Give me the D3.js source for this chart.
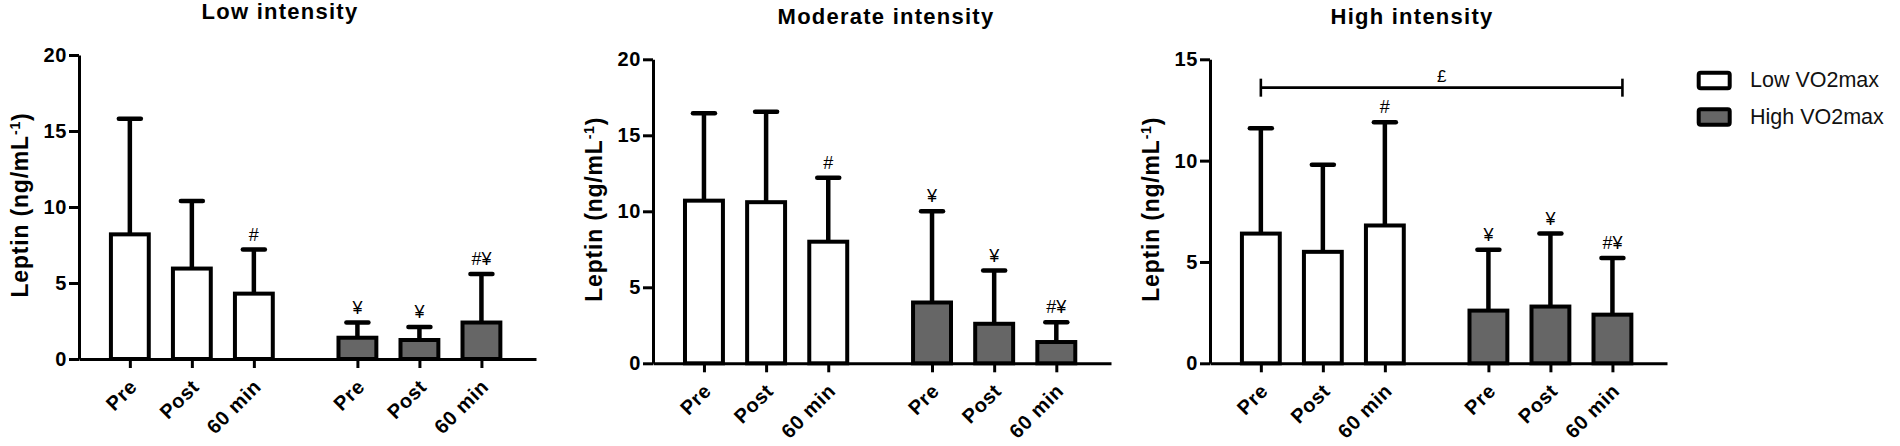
<!DOCTYPE html>
<html><head><meta charset="utf-8">
<script src="https://cdn.jsdelivr.net/npm/d3@7"></script>
<style>
body{margin:0;background:#fff}
svg{display:block}
text{font-family:"Liberation Sans", Arial, Helvetica, sans-serif;fill:#000}
</style>
</head><body>
<svg id="chart" width="1900" height="446"></svg>
<script>
// ---------------- data ----------------
const categories = ["Pre", "Post", "60 min"];
const groupNames = ["Low VO2max", "High VO2max"];
const panelTitles = ["Low intensity", "Moderate intensity", "High intensity"];
const lowMean  = [[8.2, 5.95, 4.3], [10.7, 10.6, 8.0], [6.4, 5.5, 6.8]];
const lowSD    = [[7.6, 4.45, 2.9], [5.75, 5.95, 4.2], [5.2, 4.3, 5.1]];
const highMean = [[1.4, 1.25, 2.4], [4.0, 2.6, 1.4], [2.6, 2.8, 2.4]];
const highSD   = [[1.0, 0.85, 3.2], [6.0, 3.5, 1.3], [3.0, 3.6, 2.8]];
const lowMarks  = [["", "", "#"], ["", "", "#"], ["", "", "#"]];
const highMarks = [["¥", "¥", "#¥"], ["¥", "¥", "#¥"], ["¥", "¥", "#¥"]];
const yMax = [20, 20, 15];
const yTickValues = [[0, 5, 10, 15, 20], [0, 5, 10, 15, 20], [0, 5, 10, 15]];
const yLabelMain = "Leptin (ng/mL";
const yLabelSup = "-1";
const yLabelEnd = ")";
const bracketPanel = 2;
const bracketValue = 13.6;
const bracketLabel = "£";

// ---------------- layout ----------------
const layout = [
  {ax: 79,   axEnd: 536,  y0: 359,   yTop: 55,   titleX: 280,  titleY: 18.5},
  {ax: 653,  axEnd: 1111, y0: 363.3, yTop: 59.3, titleX: 886,  titleY: 24},
  {ax: 1210, axEnd: 1667, y0: 363.3, yTop: 59.3, titleX: 1412, titleY: 24}
];
const GAP = 1.67;
const slot = (g, i) => g === 0 ? i : 2 + GAP + i;
const fills = ["#ffffff", "#666666"];

const svg = d3.select("#chart");

layout.forEach((L, p) => {
  const g = svg.append("g");
  const x = d3.scaleLinear().domain([-0.82, slot(1, 2) + 0.88]).range([L.ax, L.axEnd]);
  const y = d3.scaleLinear().domain([0, yMax[p]]).range([L.y0, L.yTop]);
  const unit = x(1) - x(0);
  const bw = unit * 0.675;
  const sw = 4;

  const data = [];
  [lowMean, highMean].forEach((M, gi) => {
    M[p].forEach((m, i) => data.push({
      gi, i, mean: m,
      sd: (gi ? highSD : lowSD)[p][i],
      mark: (gi ? highMarks : lowMarks)[p][i]
    }));
  });

  // error bars (upper only)
  g.selectAll(".stem").data(data).join("line").attr("class", "stem")
    .attr("x1", d => x(slot(d.gi, d.i))).attr("x2", d => x(slot(d.gi, d.i)))
    .attr("y1", d => y(d.mean)).attr("y2", d => y(d.mean + d.sd))
    .attr("stroke", "#000").attr("stroke-width", 4.5);
  g.selectAll(".cap").data(data).join("line").attr("class", "cap")
    .attr("x1", d => x(slot(d.gi, d.i)) - 11).attr("x2", d => x(slot(d.gi, d.i)) + 11)
    .attr("y1", d => y(d.mean + d.sd)).attr("y2", d => y(d.mean + d.sd))
    .attr("stroke", "#000").attr("stroke-width", 4.5).attr("stroke-linecap", "round");

  // bars
  g.selectAll(".bar").data(data).join("rect").attr("class", "bar")
    .attr("x", d => x(slot(d.gi, d.i)) - bw / 2 + sw / 2)
    .attr("width", bw - sw)
    .attr("y", d => y(d.mean))
    .attr("height", d => y(0) - y(d.mean))
    .attr("fill", d => fills[d.gi])
    .attr("stroke", "#000").attr("stroke-width", sw);

  // significance marks
  g.selectAll(".mark").data(data.filter(d => d.mark)).join("text").attr("class", "mark")
    .attr("x", d => x(slot(d.gi, d.i)))
    .attr("y", d => y(d.mean + d.sd) - 9)
    .attr("text-anchor", "middle")
    .style("font-size", "18px")
    .text(d => d.mark);

  // y axis
  const ya = g.append("g").attr("transform", `translate(${L.ax},0)`)
    .call(d3.axisLeft(y).tickValues(yTickValues[p]).tickSize(10).tickPadding(2).tickSizeOuter(0));
  ya.select(".domain").attr("stroke", "#000").attr("stroke-width", 3);
  ya.selectAll(".tick line").attr("stroke", "#000").attr("stroke-width", 3);
  ya.selectAll(".tick text").attr("fill", "#000")
    .style("font-size", "20px").style("font-weight", "bold")
    .style("font-family", "'Liberation Sans', Arial, sans-serif")
    .style("letter-spacing", "0.6px");

  // x axis
  const slots = data.map(d => slot(d.gi, d.i));
  const xa = g.append("g").attr("transform", `translate(0,${L.y0})`)
    .call(d3.axisBottom(x).tickValues(slots).tickSize(9).tickSizeOuter(0)
      .tickFormat((v, k) => categories[k % 3]));
  xa.select(".domain").attr("stroke", "#000").attr("stroke-width", 3);
  xa.selectAll(".tick line").attr("stroke", "#000").attr("stroke-width", 3);
  xa.selectAll(".tick text").attr("fill", "#000")
    .attr("x", 0).attr("y", 0).attr("dy", 0)
    .attr("text-anchor", "end")
    .attr("transform", "translate(8,29) rotate(-45)")
    .style("font-size", "20px").style("font-weight", "bold")
    .style("font-family", "'Liberation Sans', Arial, sans-serif")
    .style("letter-spacing", "0.6px");

  // y label
  const yl = g.append("text")
    .attr("transform", `translate(${L.ax - 51},${(L.y0 + L.yTop) / 2 - 2}) rotate(-90)`)
    .attr("text-anchor", "middle")
    .style("font-size", "23px").style("font-weight", "bold")
    .style("letter-spacing", "0.8px");
  yl.append("tspan").text(yLabelMain);
  yl.append("tspan").attr("dy", "-0.55em").style("font-size", "14px").text(yLabelSup);
  yl.append("tspan").attr("dy", "0.36em").text(yLabelEnd);

  // title
  g.append("text").attr("x", L.titleX).attr("y", L.titleY)
    .attr("text-anchor", "middle")
    .style("font-size", "22px").style("font-weight", "bold")
    .style("letter-spacing", "1.25px")
    .text(panelTitles[p]);

  // bracket
  if (p === bracketPanel) {
    const bx1 = x(slot(0, 0)), bx2 = x(slot(1, 2)) + 10, by = y(bracketValue);
    const bg = g.append("g").attr("stroke", "#000").attr("stroke-width", 2.6);
    bg.append("line").attr("x1", bx1).attr("x2", bx2).attr("y1", by).attr("y2", by);
    bg.append("line").attr("x1", bx1).attr("x2", bx1).attr("y1", by - 9).attr("y2", by + 9);
    bg.append("line").attr("x1", bx2).attr("x2", bx2).attr("y1", by - 9).attr("y2", by + 9);
    g.append("text").attr("x", (bx1 + bx2) / 2).attr("y", by - 6)
      .attr("text-anchor", "middle").style("font-size", "17px").text(bracketLabel);
  }
});

// legend
const lg = svg.append("g");
groupNames.forEach((name, k) => {
  lg.append("rect").attr("x", 1698.7).attr("y", 72.7 + k * 36.6)
    .attr("width", 31).attr("height", 15.5).attr("rx", 2)
    .attr("fill", fills[k]).attr("stroke", "#000").attr("stroke-width", 4);
  lg.append("text").attr("x", 1750).attr("y", 87.3 + k * 36.7)
    .style("font-size", "21.5px").style("fill", "#111").text(name);
});
</script>
</body></html>
